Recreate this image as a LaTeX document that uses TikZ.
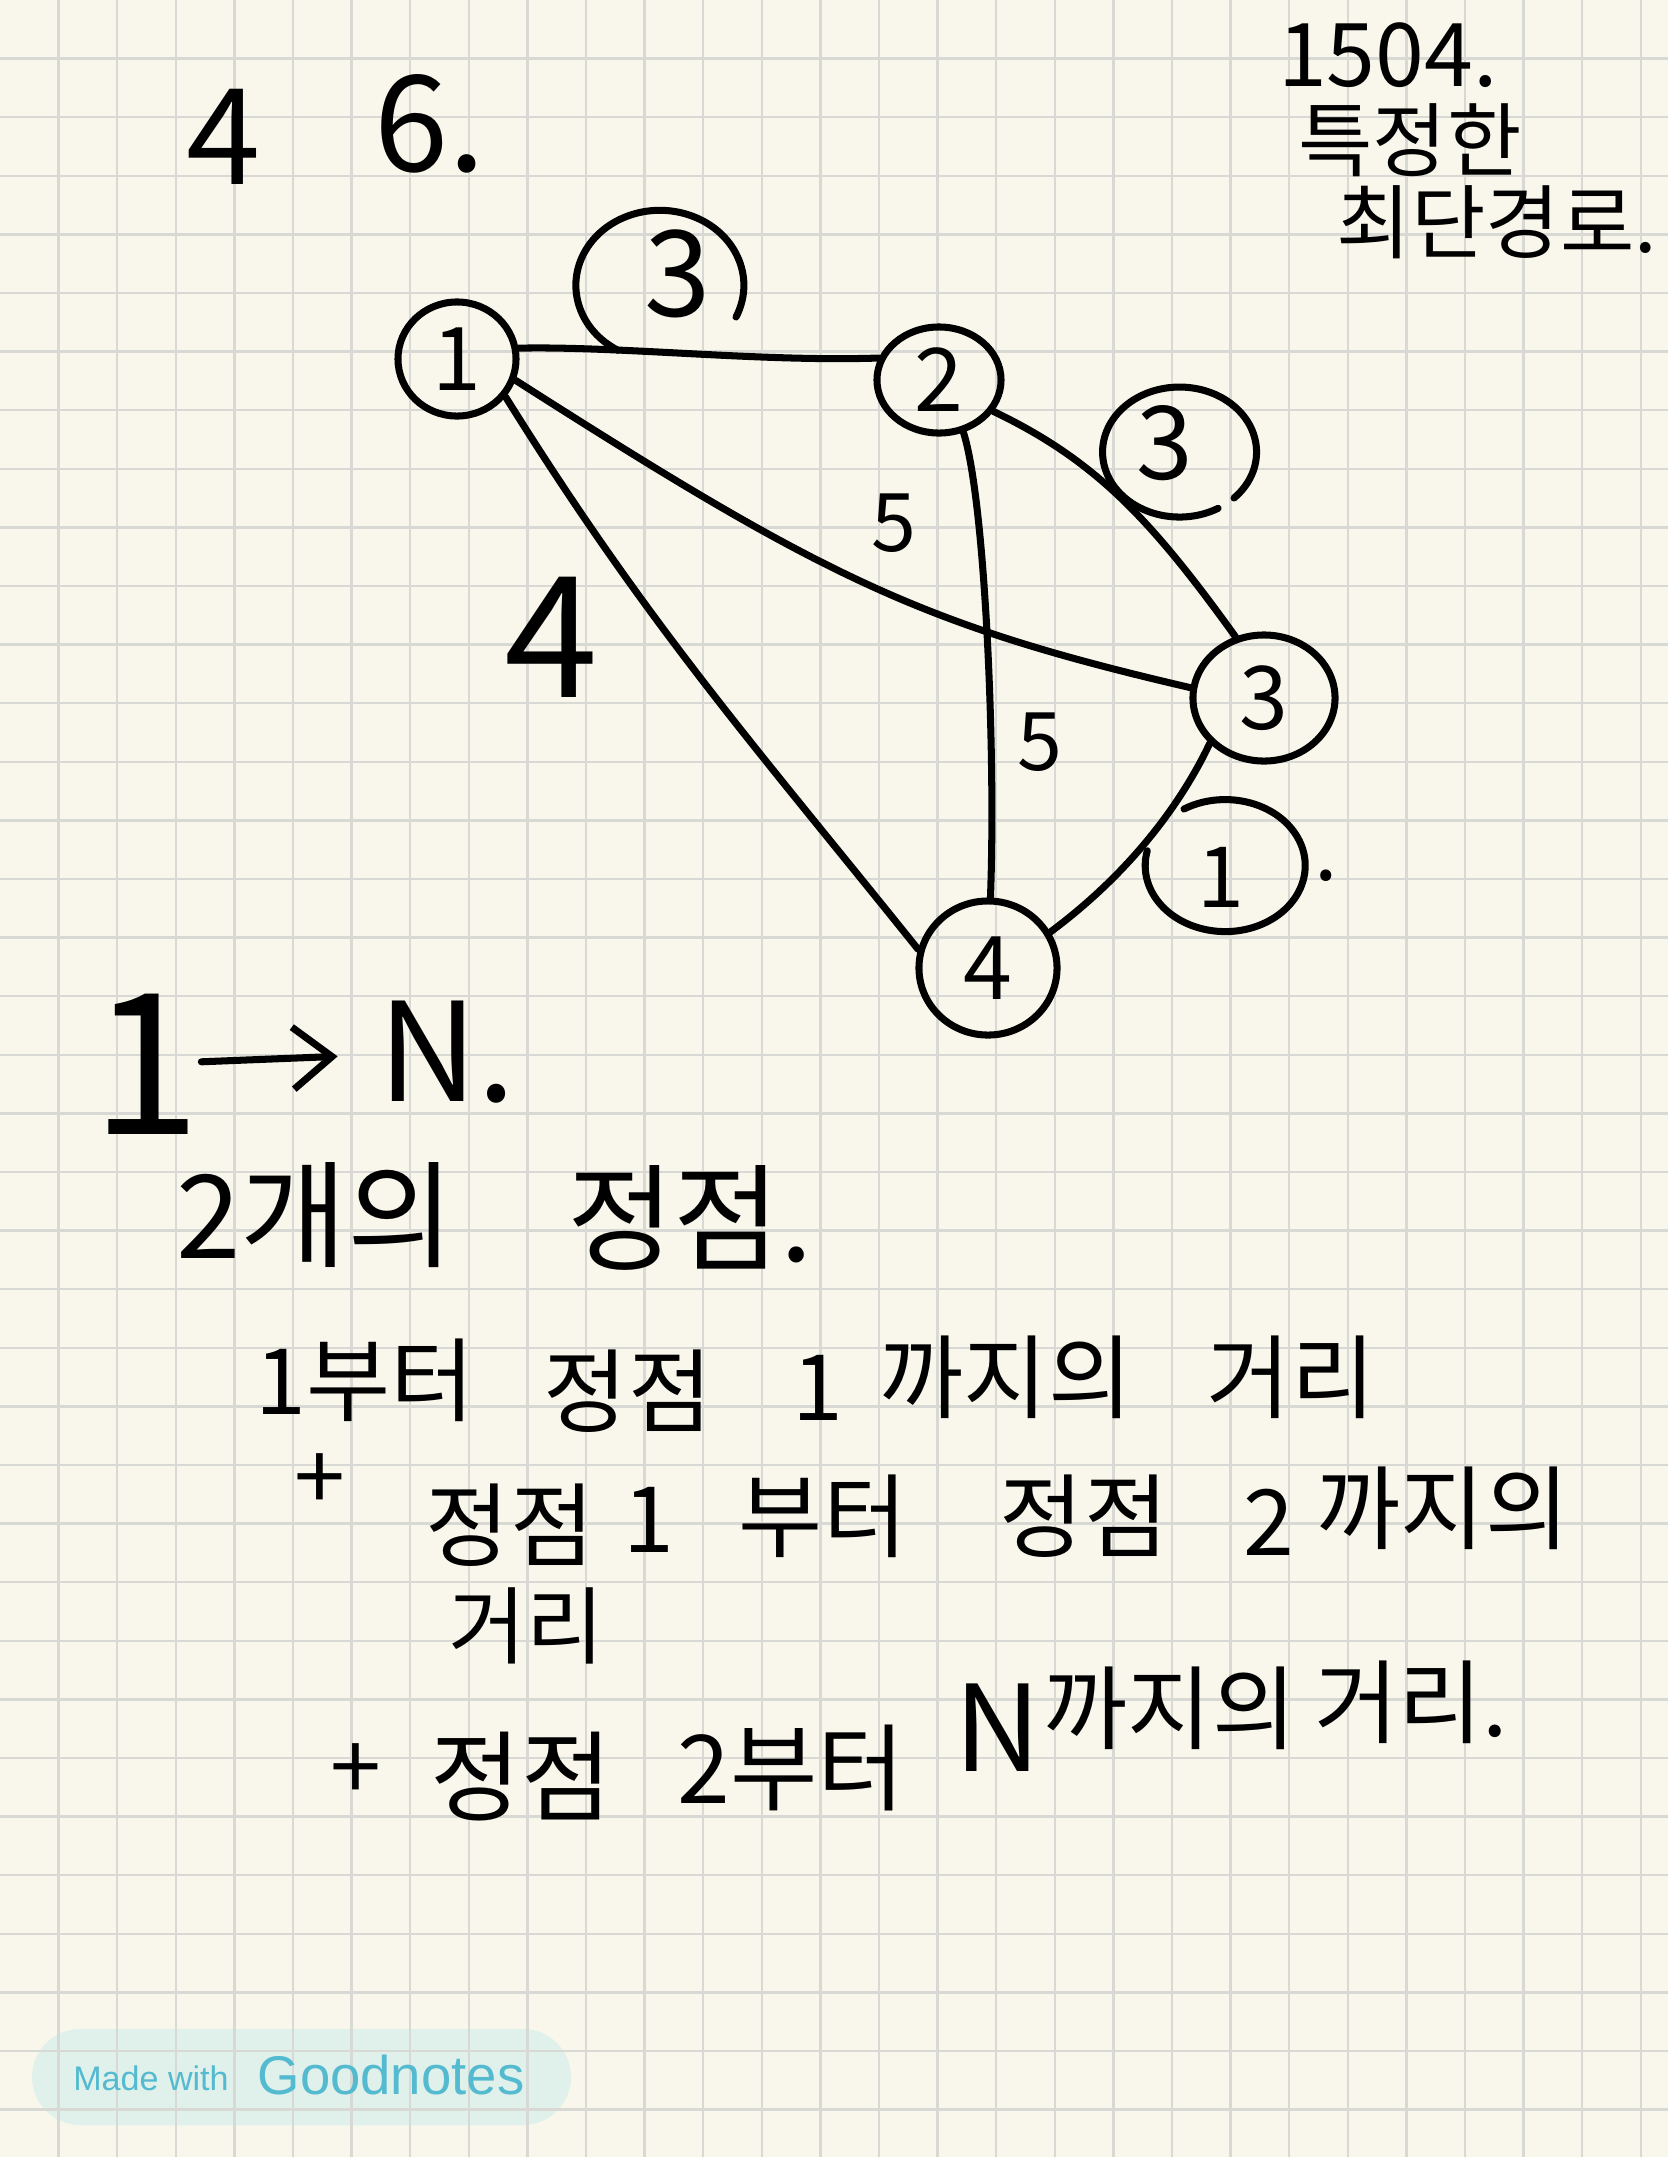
\documentclass[tikz,border=0pt]{standalone}
\usepackage{fontspec}
\newfontfamily\kor{Noto Sans CJK KR}
\newfontfamily\logofont{Liberation Sans}
\usetikzlibrary{shapes.geometric,arrows.meta}
\newcommand{\handsize}[1]{\kor\fontsize{#1}{#1}\selectfont}
\definecolor{paper}{RGB}{249,247,236}
\definecolor{gridgray}{RGB}{216,216,213}
\definecolor{gnteal}{RGB}{84,186,208}
\definecolor{gnpill}{RGB}{224,240,234}
\tikzset{
  pen/.style={line width=2pt, line cap=round, line join=round},
  vertex/.style={draw, ellipse, pen, inner sep=0pt, font=\handsize{25}},
  word/.style={inner sep=0pt, font=\handsize{26}},
  gridline/.style={draw=gridgray, line width=0.7pt},
  logo/.style={inner sep=0pt, text=gnteal},
}
\begin{document}
\begin{tikzpicture}[x=0.01cm, y=-0.01cm]
  \useasboundingbox (0,0) rectangle (1668,2157);
  \fill[paper] (0,0) rectangle (1668,2157);
  % badge
  \fill[gnpill, rounded corners=0.48cm] (32,2029) rectangle (571,2125);
  % paper grid
  \foreach \k in {1,...,28} \draw[gridline] ({\k*58.6},0) -- ({\k*58.6},2157);
  \foreach \k in {1,...,36} \draw[gridline] (0,{\k*58.6}) -- (1668,{\k*58.6});
  \node[logo, font=\logofont\fontsize{9.7}{10}\selectfont] (made) at (151,2078) {Made with};
  \node[logo, font=\logofont\fontsize{15.5}{16}\selectfont] (goodnotes) at (391,2075) {Goodnotes};

  % header
  \node[word, font=\handsize{38}] (nverts) at (224,137) {4};
  \node[word, font=\handsize{38}] (nedges) at (430,124) {6.};
  \node[word, font=\handsize{25}] (probno) at (1388,55) {1504.};
  \node[word, font=\handsize{23}] (title1) at (1410,140) {특정한};
  \node[word, font=\handsize{23}] (title2) at (1497,222) {최단경로.};

  % graph
  \node[vertex, minimum width=1.18cm, minimum height=1.14cm] (n1) at (457,359) {1};
  \node[vertex, minimum width=1.24cm, minimum height=1.06cm] (n2) at (939,380) {2};
  \node[vertex, minimum width=1.42cm, minimum height=1.26cm] (n3) at (1264,698) {3};
  \node[vertex, minimum width=1.38cm, minimum height=1.34cm] (n4) at (988,968) {4};

  \draw[pen] (n1.10) .. controls (620,346) and (760,362) .. (n2.160);
  \draw[pen] (n1.-20) .. controls (825,578) and (921,625) .. (n3.172);
  \draw[pen] (n1.-38) .. controls (649,627) and (755,746) .. (n4.165);
  \draw[pen] (n2.-65) .. controls (985,500) and (996,750) .. (n4.88);
  \draw[pen] (n2.-30) .. controls (1095,460) and (1150,518) .. (n3.115);
  \draw[pen] (n3.-140) .. controls (1177,812) and (1123,878) .. (n4.30);

  % weights
  \node[word, font=\handsize{34}] (w12) at (678,274) {3};
  \draw[pen] (736,317) arc[start angle=25, end angle=-240, x radius=84, y radius=75];
  \node[word, font=\handsize{29}] (w23) at (1165,443) {3};
  \draw[pen] (1234,498) arc[start angle=45, end angle=-300, x radius=77, y radius=65];
  \node[word, font=\handsize{23}] (w13) at (894,523) {5};
  \node[word, font=\handsize{23}] (w24) at (1040,742) {5};
  \node[word, font=\handsize{48}] (w14) at (551,637) {4};
  \node[word, font=\handsize{24}] (w34) at (1221,877) {1};
  \draw[pen] (1184,809) arc[start angle=-121, end angle=193, x radius=80, y radius=66];
  \node[word, font=\handsize{24}] (w34dot) at (1326,876) {.};

  % path 1 -> N
  \node[word, font=\handsize{56}] (src) at (146,1064) {1};
  \node[word, font=\handsize{39}] (dst) at (447,1052) {N.};
  \draw[pen, -{Straight Barb[length=0.39cm, width=0.62cm]}, shorten >=0.4cm] (src) -- (dst);

  % notes
  \node[word, font=\handsize{33}] (twoa) at (315,1215) {2개의};
  \node[word, font=\handsize{33}] (twob) at (690,1218) {정점.};

  \node[word] (l3a) at (365,1380) {1부터};
  \node[word] (l3b) at (628,1391) {정점};
  \node[word] (l3c) at (818,1388) {1};
  \node[word] (l3d) at (1006,1377) {까지의};
  \node[word] (l3e) at (1291,1377) {거리};

  \node[word] (l4plus) at (320,1482) {+};
  \node[word] (l4a) at (510,1525) {정점};
  \node[word] (l4b) at (649,1520) {1};
  \node[word] (l4c) at (823,1516) {부터};
  \node[word] (l4d) at (1084,1516) {정점};
  \node[word] (l4e) at (1269,1522) {2};
  \node[word] (l4f) at (1443,1508) {까지의};
  \node[word, font=\handsize{24}] (l5) at (526,1626) {거리};

  \node[word] (l6plus) at (356,1772) {+};
  \node[word, font=\handsize{28}] (l6a) at (521,1777) {정점};
  \node[word, font=\handsize{27}] (l6b) at (791,1768) {2부터};
  \node[word, font=\handsize{34}] (l6c) at (998,1728) {N};
  \node[word] (l6d) at (1170,1708) {까지의};
  \node[word] (l6e) at (1411,1702) {거리.};
\end{tikzpicture}
\end{document}
